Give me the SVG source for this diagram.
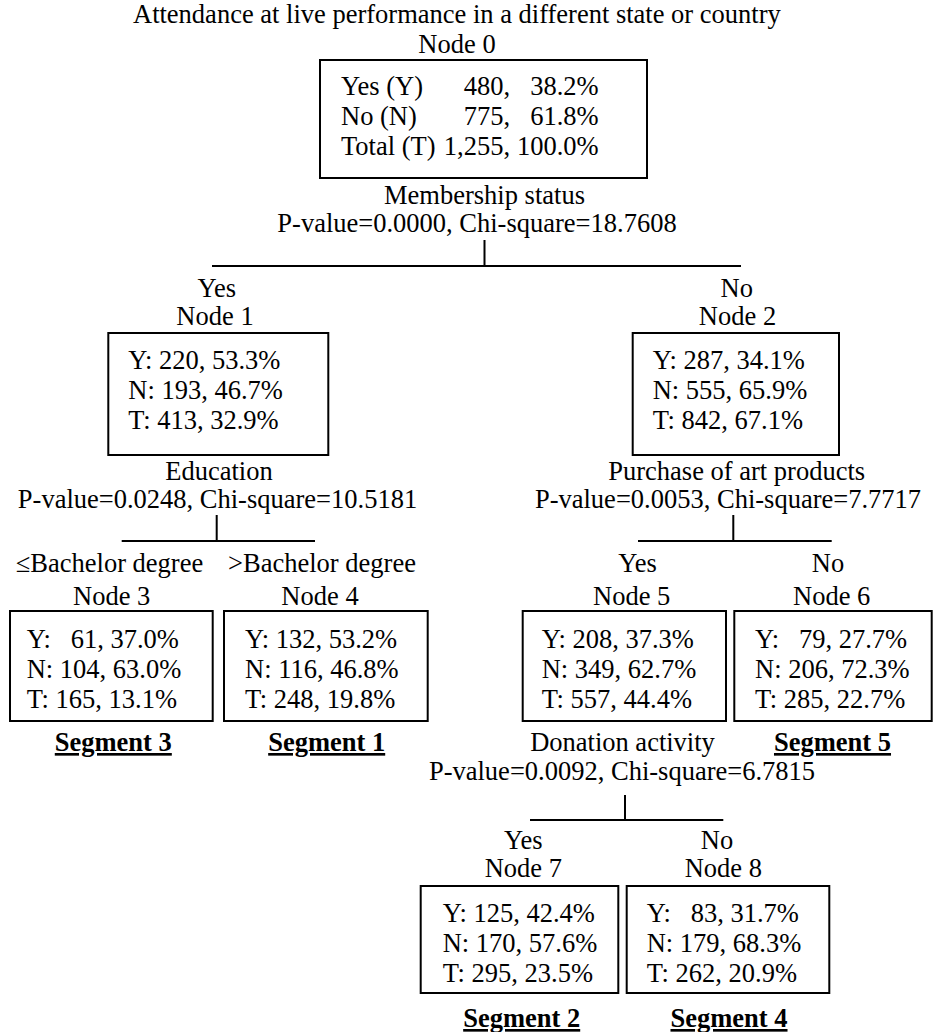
<svg xmlns="http://www.w3.org/2000/svg" width="933" height="1032" viewBox="0 0 933 1032">
<style>
text{font-family:"Liberation Serif","Times New Roman",serif;font-size:26.5px;fill:#000}
.c{text-anchor:middle}
.e{text-anchor:end}
.seg{font-weight:bold;text-decoration:underline;text-anchor:middle}
.box{fill:none;stroke:#000;stroke-width:2}
.ln{stroke:#000;stroke-width:2;fill:none}
</style>
<rect width="933" height="1032" fill="#fff"/>
<g id="title"><text x="133" y="23">Attendance at live performance in a different state or country</text></g>
<g id="connectors">
<path class="ln" d="M484.5 240V266M212 266H741"/>
<path class="ln" d="M216.7 515V541M121.7 541H315"/>
<path class="ln" d="M733.3 515V541M638 541H831.7"/>
<path class="ln" d="M625 795V820M530 820H723.3"/>
</g>
<g id="node0">
<text class="c" x="457" y="52.5">Node 0</text>
<rect class="box" x="320" y="60" width="327" height="118"/>
<text x="341" y="95">Yes (Y)<tspan class="e" x="510">480,</tspan><tspan class="e" x="598.6">38.2%</tspan></text>
<text x="341" y="125">No (N)<tspan class="e" x="510">775,</tspan><tspan class="e" x="598.6">61.8%</tspan></text>
<text x="341" y="155">Total (T)<tspan class="e" x="510">1,255,</tspan><tspan class="e" x="598.6">100.0%</tspan></text>
<text class="c" x="484.5" y="204">Membership status</text>
<text class="c" x="477" y="232">P-value=0.0000, Chi-square=18.7608</text>
</g>
<g id="node1">
<text class="c" x="216.7" y="297">Yes</text>
<text class="c" x="215" y="325">Node 1</text>
<rect class="box" x="108.3" y="333" width="220" height="122"/>
<text x="128.3" y="369">Y: 220, 53.3%</text>
<text x="128.3" y="399">N: 193, 46.7%</text>
<text x="128.3" y="429">T: 413, 32.9%</text>
<text class="c" x="219" y="480">Education</text>
<text class="c" x="217.5" y="508">P-value=0.0248, Chi-square=10.5181</text>
</g>
<g id="node2">
<text class="c" x="736.7" y="297">No</text>
<text class="c" x="737.5" y="325">Node 2</text>
<rect class="box" x="632.7" y="333" width="206.3" height="122"/>
<text x="652.7" y="369">Y: 287, 34.1%</text>
<text x="652.7" y="399">N: 555, 65.9%</text>
<text x="652.7" y="429">T: 842, 67.1%</text>
<text class="c" x="736.7" y="480">Purchase of art products</text>
<text class="c" x="728" y="508">P-value=0.0053, Chi-square=7.7717</text>
</g>
<g id="node3">
<text class="c" x="109.5" y="572">≤Bachelor degree</text>
<text class="c" x="111.7" y="605">Node 3</text>
<rect class="box" x="10" y="611" width="202.7" height="110"/>
<text x="26.7" y="648">Y: <tspan dx="13.25">61, 37.0%</tspan></text>
<text x="26.7" y="678">N: 104, 63.0%</text>
<text x="26.7" y="708">T: 165, 13.1%</text>
<text class="seg" x="113.3" y="751">Segment 3</text>
</g>
<g id="node4">
<text class="c" x="322" y="572">&gt;Bachelor degree</text>
<text class="c" x="320" y="605">Node 4</text>
<rect class="box" x="224" y="611" width="203.7" height="110"/>
<text x="245" y="648">Y: 132, 53.2%</text>
<text x="245" y="678">N: 116, 46.8%</text>
<text x="245" y="708">T: 248, 19.8%</text>
<text class="seg" x="326.7" y="751">Segment 1</text>
</g>
<g id="node5">
<text class="c" x="637.5" y="572">Yes</text>
<text class="c" x="631.7" y="605">Node 5</text>
<rect class="box" x="522.7" y="611" width="203.3" height="110"/>
<text x="541.7" y="648">Y: 208, 37.3%</text>
<text x="541.7" y="678">N: 349, 62.7%</text>
<text x="541.7" y="708">T: 557, 44.4%</text>
<text class="c" x="622.5" y="751">Donation activity</text>
<text class="c" x="622" y="780">P-value=0.0092, Chi-square=6.7815</text>
</g>
<g id="node6">
<text class="c" x="828" y="572">No</text>
<text class="c" x="831.7" y="605">Node 6</text>
<rect class="box" x="734.3" y="611" width="197.4" height="110"/>
<text x="755" y="648">Y: <tspan dx="13.25">79, 27.7%</tspan></text>
<text x="755" y="678">N: 206, 72.3%</text>
<text x="755" y="708">T: 285, 22.7%</text>
<text class="seg" x="832.5" y="751">Segment 5</text>
</g>
<g id="node7">
<text class="c" x="523.3" y="849">Yes</text>
<text class="c" x="523.3" y="877">Node 7</text>
<rect class="box" x="420.7" y="886" width="197.6" height="107"/>
<text x="442.7" y="922">Y: 125, 42.4%</text>
<text x="442.7" y="952">N: 170, 57.6%</text>
<text x="442.7" y="982">T: 295, 23.5%</text>
<text class="seg" x="521.7" y="1027">Segment 2</text>
</g>
<g id="node8">
<text class="c" x="717" y="849">No</text>
<text class="c" x="723.3" y="877">Node 8</text>
<rect class="box" x="626.7" y="886" width="202.6" height="107"/>
<text x="646.7" y="922">Y: <tspan dx="13.25">83, 31.7%</tspan></text>
<text x="646.7" y="952">N: 179, 68.3%</text>
<text x="646.7" y="982">T: 262, 20.9%</text>
<text class="seg" x="729" y="1027">Segment 4</text>
</g>
</svg>
